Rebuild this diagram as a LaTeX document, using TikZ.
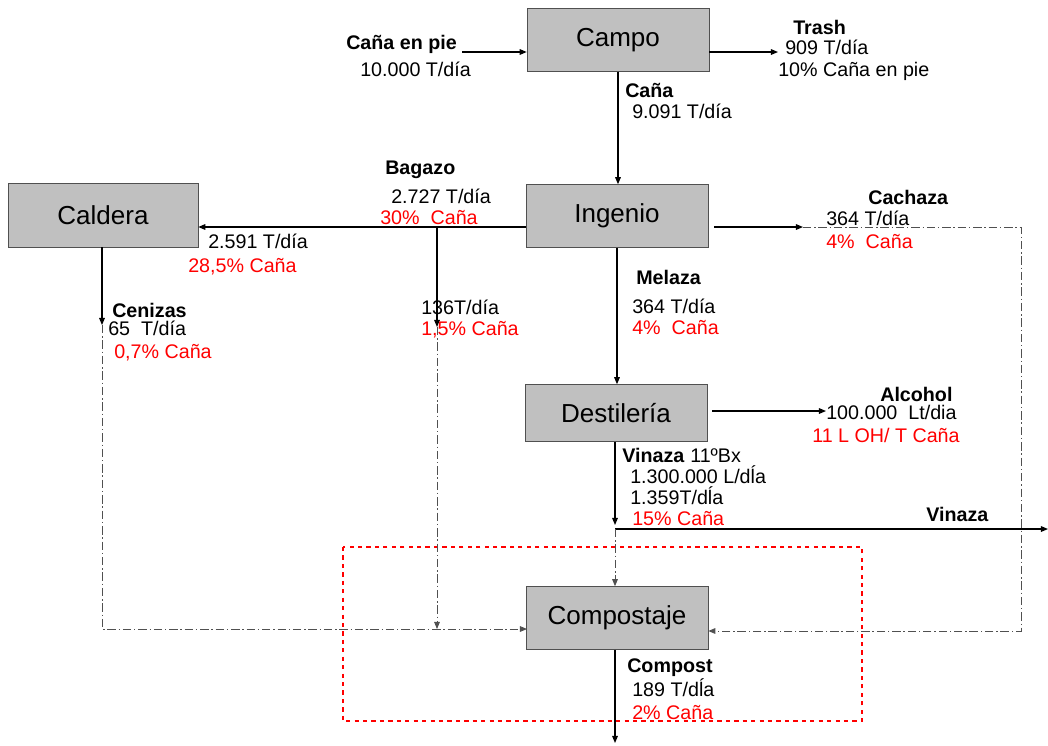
\documentclass[tikz,border=0pt]{standalone}
\usepackage{fontspec}
\setmainfont{Liberation Sans}
\usetikzlibrary{positioning, arrows.meta, calc}
\definecolor{boxgray}{RGB}{192,192,192}
\definecolor{linegray}{RGB}{80,80,80}
\begin{document}
\begin{tikzpicture}[x=0.025cm, y=-0.025cm,
		font=\fontsize{14}{16}\selectfont,
		procbox/.style={draw=linegray, fill=boxgray, minimum width=4.55cm, minimum height=1.575cm, font=\fontsize{18.5}{20}\selectfont},
		flow/.style={-{Triangle[length=5pt,width=4pt]}, line width=0.8pt},
		dashflow/.style={-{Triangle[length=5pt,width=4pt]}, linegray, line width=0.6pt, dash pattern=on 6pt off 2pt on 1pt off 2pt},
		lbl/.style={anchor=west, inner sep=0pt, text height=10pt, text depth=0pt},
		lblb/.style={lbl, font=\fontsize{14}{16}\selectfont\bfseries},
		lblr/.style={lbl, red}]
	\useasboundingbox (0,0) rectangle (1048,745);
	% process boxes
	\node[procbox] (campo) at (618,40) {Campo};
	\node[procbox] (ingenio) at (617,216) {Ingenio};
	\node[procbox, minimum width=4.75cm, minimum height=1.6cm] (caldera) at (103,215) {Caldera};
	\node[procbox, minimum height=1.425cm] (destil) at (616,413) {Destilería};
	\node[procbox] (compost) at (617,618) {Compostaje};
	\draw[red, dashed, line width=0.8pt] (343,547) rectangle (862,721);
	% free ends
	\coordinate (cinput) at (462,52);
	\coordinate (trashend) at (778,52);
	\coordinate (bagsplit) at (437,227);
	\coordinate (bagtip) at (437,327);
	\coordinate (cenztip) at (102,325);
	\coordinate (compwest) at (527,629);
	\coordinate (cachtip) at (803,227);
	\coordinate (cachcorner) at (1021,227);
	\coordinate (cachlow) at (1021,631);
	\coordinate (alcend) at (826,411);
	\coordinate (vintip) at (615,525);
	\coordinate (vinsplit) at (615,529);
	\coordinate (vinend) at (1048,529);
	\coordinate (compend) at (615,743);
	% solid flows
	\draw[flow] (cinput) -- (cinput -| campo.west);
	\draw[flow] (trashend -| campo.east) -- (trashend);
	\draw[flow] (campo.south) -- (campo.south |- ingenio.north);
	\draw[flow] (bagsplit -| ingenio.west) -- (bagsplit -| caldera.east);
	\draw[flow] (bagsplit) -- (bagtip);
	\draw[flow] (cenztip |- caldera.south) -- (cenztip);
	\draw[flow, shorten <=0.15cm] (cachtip -| ingenio.east) -- (cachtip);
	\draw[flow] (ingenio.south) -- (ingenio.south |- destil.north);
	\draw[flow, shorten <=0.12cm] (alcend -| destil.east) -- (alcend);
	\draw[flow] (vintip |- destil.south) -- (vintip);
	\draw[flow] (vinsplit) -- (vinend);
	\draw[flow] (compend |- compost.south) -- (compend);
	% residues to compost
	\draw[dashflow] (cenztip) -- (cenztip |- compwest) -- (compwest);
	\draw[dashflow] (bagtip) -- (bagtip |- compwest);
	\draw[dashflow] (cachtip) -- (cachcorner) -- (cachlow) -- (cachlow -| compost.east);
	\draw[dashflow] (vinsplit) -- (vinsplit |- compost.north);
	% labels
	\node[lblb] (l1) at (346,42) {Caña en pie};
	\node[lbl] (l2) at (360,69) {10.000 T/día};
	\node[lblb] (l3) at (793,27) {Trash};
	\node[lbl] (l4) at (785,47) {909 T/día};
	\node[lbl] (l5) at (778,69) {10\% Caña en pie};
	\node[lblb] (l6) at (625,90) {Caña};
	\node[lbl] (l7) at (632,111) {9.091 T/día};
	\node[lblb] (l8) at (385,167) {Bagazo};
	\node[lbl] (l9) at (391,196) {2.727 T/día};
	\node[lblr] (l10) at (380,217) {30\%~~Caña};
	\node[lbl] (l11) at (208,241) {2.591 T/día};
	\node[lblr] (l12) at (188,265) {28,5\% Caña};
	\node[lblb] (l13) at (112,310) {Cenizas};
	\node[lbl] (l14) at (108,328) {65~~T/día};
	\node[lblr] (l15) at (114,351) {0,7\% Caña};
	\node[lbl] (l16) at (421,307) {136T/día};
	\node[lblr] (l17) at (421,328) {1,5\% Caña};
	\node[lblb] (l18) at (868,197) {Cachaza};
	\node[lbl] (l19) at (826,218) {364 T/día};
	\node[lblr] (l20) at (826,241) {4\%~~Caña};
	\node[lblb] (l21) at (636,277) {Melaza};
	\node[lbl] (l22) at (632,306) {364 T/día};
	\node[lblr] (l23) at (632,327) {4\%~~Caña};
	\node[lblb] (l24) at (880,394) {Alcohol};
	\node[lbl] (l25) at (826,412) {100.000~~Lt/dia};
	\node[lblr] (l26) at (812,435) {11 L OH/ T Caña};
	\node[lblb] (l27) at (622,455) {Vinaza};
	\node[lbl] (l28) at (690,455) {11ºBx};
	\node[lbl] (l29) at (630,476) {1.300.000 L/dĺa};
	\node[lbl] (l30) at (630,497) {1.359T/dĺa};
	\node[lblr] (l31) at (632,518) {15\% Caña};
	\node[lblb] (l32) at (926,514) {Vinaza};
	\node[lblb] (l33) at (627,665) {Compost};
	\node[lbl] (l34) at (632,689) {189 T/dĺa};
	\node[lblr] (l35) at (632,712) {2\% Caña};
\end{tikzpicture}
\end{document}
